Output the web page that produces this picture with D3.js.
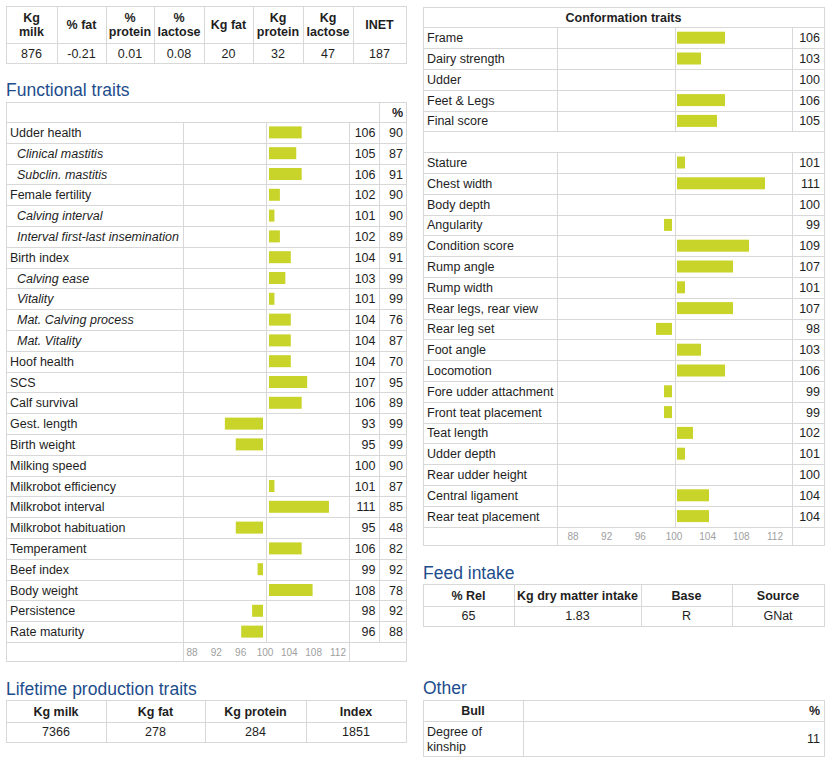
<!DOCTYPE html>
<html><head><meta charset="utf-8">
<script src="https://cdn.jsdelivr.net/npm/d3@7"></script>
<style>body{margin:0;background:#fff}svg{display:block}text{font-family:Arial,"Liberation Sans",sans-serif}</style>
</head><body><script>
// ---------- DATA ----------
const topHeaders = [["Kg","milk"],["% fat"],["%","protein"],["%","lactose"],["Kg fat"],["Kg","protein"],["Kg","lactose"],["INET"]];
const topValues = ["876","-0.21","0.01","0.08","20","32","47","187"];

const funcTraits = ["Udder health","Clinical mastitis","Subclin. mastitis","Female fertility","Calving interval","Interval first-last insemination","Birth index","Calving ease","Vitality","Mat. Calving process","Mat. Vitality","Hoof health","SCS","Calf survival","Gest. length","Birth weight","Milking speed","Milkrobot efficiency","Milkrobot interval","Milkrobot habituation","Temperament","Beef index","Body weight","Persistence","Rate maturity"];
const funcSub = [false,true,true,false,true,true,false,true,true,true,true,false,false,false,false,false,false,false,false,false,false,false,false,false,false];
const funcValues = [106,105,106,102,101,102,104,103,101,104,104,104,107,106,93,95,100,101,111,95,106,99,108,98,96];
const funcRel = [90,87,91,90,90,89,91,99,99,76,87,70,95,89,99,99,90,87,85,48,82,92,78,92,88];

const confGeneral = ["Frame","Dairy strength","Udder","Feet & Legs","Final score"];
const confGeneralValues = [106,103,100,106,105];
const confLinear = ["Stature","Chest width","Body depth","Angularity","Condition score","Rump angle","Rump width","Rear legs, rear view","Rear leg set","Foot angle","Locomotion","Fore udder attachment","Front teat placement","Teat length","Udder depth","Rear udder height","Central ligament","Rear teat placement"];
const confLinearValues = [101,111,100,99,109,107,101,107,98,103,106,99,99,102,101,100,104,104];

const axisTicks = [88,92,96,100,104,108,112];

const lifeHeaders = ["Kg milk","Kg fat","Kg protein","Index"];
const lifeValues = ["7366","278","284","1851"];

const feedHeaders = ["% Rel","Kg dry matter intake","Base","Source"];
const feedValues = ["65","1.83","R","GNat"];

const otherHeaders = ["Bull","%"];
const otherLabel = ["Degree of","kinship"];
const otherValue = "11";

// ---------- DRAWING ----------
const W = 834, H = 763;
const LINE = "#d8d8d8", TXT = "#1e1e1e", BAR = "#c9d42b", TITLE = "#1d4d8c", TICK = "#a0a0a0";
const FS = 12.5;
const svg = d3.select("body").append("svg").attr("width", W).attr("height", H);
svg.append("rect").attr("width", W).attr("height", H).attr("fill", "#fff");
const gLines = svg.append("g").attr("stroke", LINE).attr("stroke-width", 1).attr("shape-rendering", "crispEdges");
const gBars = svg.append("g");
const gText = svg.append("g");

function hline(x1, x2, y) { gLines.append("line").attr("x1", x1).attr("x2", x2 + 1).attr("y1", Math.round(y) + 0.5).attr("y2", Math.round(y) + 0.5); }
function vline(x, y1, y2) { gLines.append("line").attr("x1", Math.round(x) + 0.5).attr("x2", Math.round(x) + 0.5).attr("y1", Math.round(y1)).attr("y2", Math.round(y2) + 1); }
function txt(x, y, s, o = {}) {
  return gText.append("text").attr("x", x).attr("y", y).attr("dy", "0.36em")
    .attr("text-anchor", o.anchor || "start")
    .attr("font-size", o.size || FS)
    .attr("font-weight", o.bold ? "bold" : "normal")
    .attr("font-style", o.italic ? "italic" : "normal")
    .attr("fill", o.fill || TXT).text(s);
}
function title(x, y, s) {
  gText.append("text").attr("x", x).attr("y", y).attr("font-size", 17.5).attr("fill", TITLE).text(s);
}
function simpleTable(xs, ys) {
  ys.forEach(y => hline(xs[0], xs[xs.length - 1], y));
  xs.forEach(x => vline(x, ys[0], ys[ys.length - 1]));
}

// Top production table
{
  const xs = [6, 57, 106, 154, 204, 253, 303, 353, 406], ys = [6, 43, 63];
  simpleTable(xs, ys);
  topHeaders.forEach((h, i) => {
    const cx = (xs[i] + xs[i + 1]) / 2;
    if (h.length === 2) { txt(cx, 17, h[0], { anchor: "middle", bold: true }); txt(cx, 31.5, h[1], { anchor: "middle", bold: true }); }
    else txt(cx, 24.5, h[0], { anchor: "middle", bold: true });
  });
  topValues.forEach((v, i) => txt((xs[i] + xs[i + 1]) / 2, 53, v, { anchor: "middle" }));
}

// Functional traits
title(6, 96, "Functional traits");
{
  const x0 = 6, xL = 183, xMid = 266, xV = 349, xR = 379, x1 = 406;
  const top = 102, hb = 122, rh = 20.8, n = funcTraits.length;
  const axTop = hb + n * rh, bot = 661;
  const rowY = i => hb + i * rh;
  hline(x0, x1, top); hline(x0, x1, hb);
  for (let i = 1; i <= n; i++) hline(x0, x1, rowY(i));
  hline(x0, x1, bot);
  vline(x0, top, bot); vline(x1, top, bot);
  vline(xR, top, axTop);
  vline(xL, hb, bot); vline(xV, hb, bot);
  vline(xMid, hb, axTop);
  txt(403, 112.5, "%", { anchor: "end", bold: true });
  const len = d3.scaleLinear().domain([0, 12]).range([0, 65.4]);
  funcTraits.forEach((t, i) => {
    const cy = rowY(i) + rh / 2;
    txt(funcSub[i] ? 17 : 10, cy, t, { italic: funcSub[i] });
    txt(375.5, cy, funcValues[i], { anchor: "end" });
    txt(403, cy, funcRel[i], { anchor: "end" });
    const d = funcValues[i] - 100;
    if (d !== 0) {
      const w = len(Math.abs(d));
      gBars.append("rect").attr("x", d > 0 ? xMid + 3 : xMid - 3 - w).attr("y", cy - 6).attr("width", w).attr("height", 12).attr("fill", BAR);
    }
  });
  const ax = d3.scaleLinear().domain([88, 112]).range([192, 338]);
  axisTicks.forEach(t => txt(ax(t), (axTop + bot) / 2 + 1, t, { anchor: "middle", size: 10, fill: TICK }));
}

// Conformation traits
{
  const x0 = 423, xL = 557, xMid = 675, xV = 792, x1 = 824;
  const top = 7, hb = 27.3, rh = 20.8;
  const rows = confGeneral.map((t, i) => ({ t, v: confGeneralValues[i] }))
    .concat([null])
    .concat(confLinear.map((t, i) => ({ t, v: confLinearValues[i] })));
  const n = rows.length;
  const rowY = i => hb + i * rh;
  const axTop = rowY(n), bot = 545;
  hline(x0, x1, top); hline(x0, x1, hb);
  for (let i = 1; i <= n; i++) hline(x0, x1, rowY(i));
  hline(x0, x1, bot);
  vline(x0, top, bot); vline(x1, top, bot);
  rows.forEach((r, i) => {
    if (!r) return;
    vline(xL, rowY(i), rowY(i + 1)); vline(xV, rowY(i), rowY(i + 1)); vline(xMid, rowY(i), rowY(i + 1));
  });
  vline(xL, axTop, bot); vline(xV, axTop, bot);
  txt((x0 + x1) / 2, 17.5, "Conformation traits", { anchor: "middle", bold: true });
  const len = d3.scaleLinear().domain([0, 12]).range([0, 96]);
  rows.forEach((r, i) => {
    if (!r) return;
    const cy = rowY(i) + rh / 2;
    txt(427, cy, r.t);
    txt(820, cy, r.v, { anchor: "end" });
    const d = r.v - 100;
    if (d !== 0) {
      const w = len(Math.abs(d));
      gBars.append("rect").attr("x", d > 0 ? xMid + 2 : xMid - 3 - w).attr("y", cy - 6).attr("width", w).attr("height", 12).attr("fill", BAR);
    }
  });
  const ax = d3.scaleLinear().domain([88, 112]).range([573, 775]);
  axisTicks.forEach(t => txt(ax(t), (axTop + bot) / 2 + 1, t, { anchor: "middle", size: 10, fill: TICK }));
}

// Feed intake
title(423, 579, "Feed intake");
{
  const xs = [423, 514, 641, 732, 824], ys = [584, 606, 626];
  simpleTable(xs, ys);
  feedHeaders.forEach((h, i) => txt((xs[i] + xs[i + 1]) / 2, 595, h, { anchor: "middle", bold: true }));
  feedValues.forEach((v, i) => txt((xs[i] + xs[i + 1]) / 2, 615.5, v, { anchor: "middle" }));
}

// Lifetime production traits
title(6, 695, "Lifetime production traits");
{
  const xs = [6, 106, 205, 306, 406], ys = [700, 722, 742];
  simpleTable(xs, ys);
  lifeHeaders.forEach((h, i) => txt((xs[i] + xs[i + 1]) / 2, 711, h, { anchor: "middle", bold: true }));
  lifeValues.forEach((v, i) => txt((xs[i] + xs[i + 1]) / 2, 731.5, v, { anchor: "middle" }));
}

// Other
title(423, 694, "Other");
{
  const xs = [423, 523, 824], ys = [700, 721, 756];
  simpleTable(xs, ys);
  txt((xs[0] + xs[1]) / 2, 710.5, otherHeaders[0], { anchor: "middle", bold: true });
  txt(820, 710.5, otherHeaders[1], { anchor: "end", bold: true });
  txt(427, 731.5, otherLabel[0]);
  txt(427, 746, otherLabel[1]);
  txt(820, 738.5, otherValue, { anchor: "end" });
}
</script></body></html>
